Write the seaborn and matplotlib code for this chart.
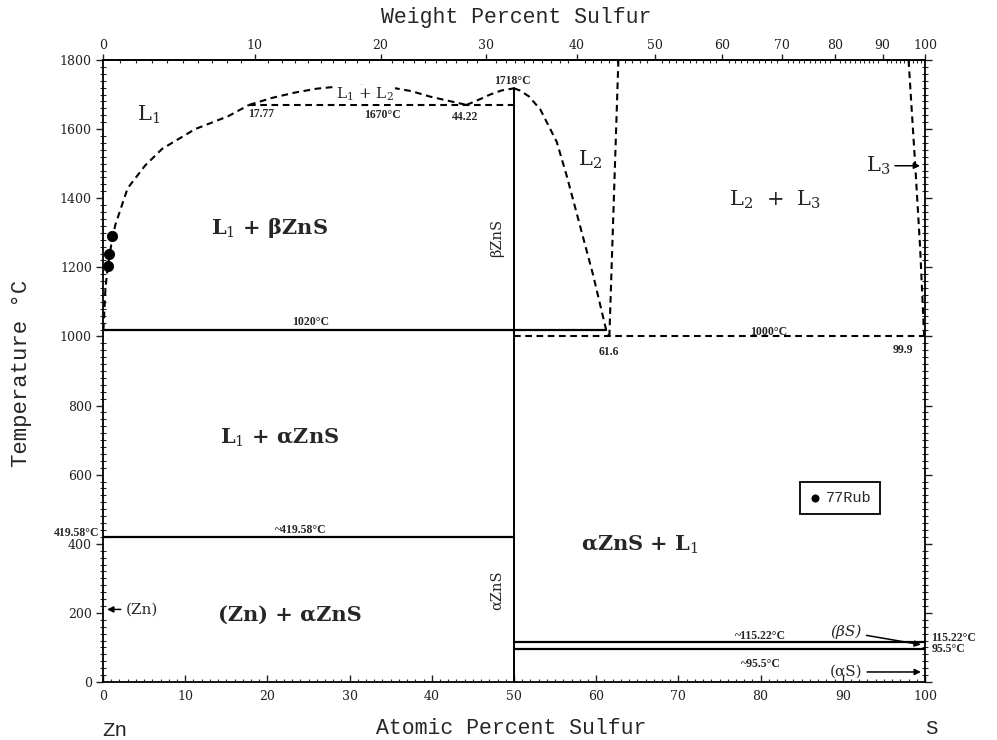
import numpy as np
import pandas as pd
import matplotlib
matplotlib.use("Agg")
import matplotlib.pyplot as plt
from matplotlib.ticker import MultipleLocator, FixedLocator
import seaborn as sns

# atomic masses used for the weight-percent scale on top
M_ZN = 65.38
M_S = 32.06

# ---- phase boundaries: atomic % S, temperature in °C ----
# liquidus of the Zn-rich liquid L1
l1_liq_x = [0.05, 0.3, 0.6, 1.0, 1.5, 3.0, 5.1, 7.2, 11.2, 15.2, 17.77]
l1_liq_T = [1020, 1140, 1205, 1265, 1323, 1429, 1494, 1543, 1600, 1637, 1670]
# L1 + L2 miscibility gap
gap_x = [17.77, 20.5, 23.4, 26.0, 28.5, 31.5, 34.9, 37.5, 39.8, 42.0, 44.22]
gap_T = [1670, 1690, 1706, 1717, 1723, 1725, 1721, 1710, 1694, 1682, 1670]
# liquidus from the monotectic up to congruent melting of ZnS
zns_liq_x = [44.22, 46.0, 47.1, 48.5, 50.0]
zns_liq_T = [1670, 1688, 1700, 1712, 1718]
# liquidus on the sulfur-rich side of ZnS (L2)
l2_liq_x = [50.0, 50.7, 51.8, 53.2, 55.2, 56.4, 58.0, 59.6, 61.2, 61.6]
l2_liq_T = [1718, 1712, 1695, 1657, 1563, 1466, 1323, 1180, 1020, 1000]
# L2 / L2 + L3 boundary
l2_gap_x = [61.6, 62.7]
l2_gap_T = [1000, 1800]
# L3 / L2 + L3 boundary
l3_gap_x = [99.9, 99.4, 98.8, 98.0]
l3_gap_T = [1000, 1260, 1500, 1800]
# ZnS line compound
zns_x = [50, 50]
zns_T = [0, 1718]

# invariant / transformation temperatures
iso_T = [1670, 1020, 1000, 419.58, 115.22, 95.5]
iso_x0 = [17.77, 0, 50, 0, 50, 50]
iso_x1 = [50, 61.2, 99.9, 50, 100, 100]
iso_dashed = [True, False, True, False, False, False]

# experimental liquidus points (77Rub)
rub_x = [0.6, 0.7, 1.1]
rub_T = [1205, 1240, 1290]

x_ticks = list(range(0, 101, 10))
y_ticks = list(range(0, 1801, 200))
wt_ticks = list(range(0, 101, 10))


def at_to_wt(a):
    a = np.asarray(a, dtype=float)
    return 100 * a * M_S / (a * M_S + (100 - a) * M_ZN)


def wt_to_at(w):
    w = np.asarray(w, dtype=float)
    return 100 * (w / M_S) / (w / M_S + (100 - w) / M_ZN)


sns.set_theme(style="ticks")
plt.rcParams["font.family"] = ["DejaVu Serif", "DejaVu Sans"]
plt.rcParams["mathtext.fontset"] = "dejavuserif"

fig = plt.figure(figsize=(9.97, 7.40), dpi=100)
ax = fig.add_axes([103 / 997, 1 - 682 / 740, 822 / 997, 622 / 740])

DASH = (0, (3.2, 2.2))


def boundary(x, T, dashed=False, lw=1.5):
    df = pd.DataFrame({"x": x, "T": T})
    sns.lineplot(data=df, x="x", y="T", ax=ax, sort=False, estimator=None,
                 color="black", linewidth=lw,
                 linestyle=DASH if dashed else "-", legend=False)


boundary(l1_liq_x, l1_liq_T, dashed=True)
boundary(gap_x, gap_T, dashed=True)
boundary(zns_liq_x, zns_liq_T, dashed=True)
boundary(l2_liq_x, l2_liq_T, dashed=True)
boundary(l2_gap_x, l2_gap_T, dashed=True)
boundary(l3_gap_x, l3_gap_T, dashed=True)
boundary(zns_x, zns_T, lw=1.4)
for T, x0, x1, d in zip(iso_T, iso_x0, iso_x1, iso_dashed):
    boundary([x0, x1], [T, T], dashed=d, lw=1.5 if d else 1.6)

sns.scatterplot(x=rub_x, y=rub_T, ax=ax, color="black", s=55,
                edgecolor="black", label="77Rub", zorder=5)

ax.set_xlim(0, 100)
ax.set_ylim(0, 1800)
ax.set_xlabel("")
ax.set_ylabel("")

# ---- ticks ----
ax.xaxis.set_major_locator(FixedLocator(x_ticks))
ax.xaxis.set_minor_locator(MultipleLocator(1))
ax.yaxis.set_major_locator(FixedLocator(y_ticks))
ax.yaxis.set_minor_locator(MultipleLocator(20))
ax.tick_params(axis="x", which="major", direction="in", length=5, width=1,
               labelsize=9, pad=6, colors="#222222")
ax.tick_params(axis="x", which="minor", direction="in", length=2.5, width=0.8)
ax.tick_params(axis="y", which="major", direction="out", length=5, width=1,
               labelsize=9, pad=3, colors="#222222", right=True)
ax.tick_params(axis="y", which="minor", direction="inout", length=4, width=0.8,
               right=True)
for sp in ax.spines.values():
    sp.set_linewidth(1.3)
    sp.set_color("black")

sec = ax.secondary_xaxis("top", functions=(at_to_wt, wt_to_at))
sec.xaxis.set_major_locator(FixedLocator(wt_ticks))
sec.xaxis.set_minor_locator(FixedLocator(list(range(0, 101, 1))))
sec.tick_params(axis="x", which="major", direction="out", length=4, width=1,
                labelsize=9, pad=2, colors="#222222")
sec.tick_params(axis="x", which="minor", direction="in", length=2, width=0.8)
sec.spines["top"].set_linewidth(1.3)

# ---- axis titles ----
mono = "Liberation Mono"
fig.text(516 / 997, 1 - 18 / 740, "Weight Percent Sulfur", family=mono,
         fontsize=15.5, ha="center", va="center")
fig.text(511 / 997, 1 - 728 / 740, "Atomic Percent Sulfur", family=mono,
         fontsize=15.5, ha="center", va="center")
fig.text(115 / 997, 1 - 730 / 740, "Zn", family=mono, fontsize=15,
         ha="center", va="center")
fig.text(931 / 997, 1 - 728 / 740, "S", family=mono, fontsize=15,
         ha="center", va="center")
fig.text(22 / 997, 1 - 373 / 740, "Temperature °C", family=mono,
         fontsize=16, ha="center", va="center", rotation=90)

# ---- phase-field labels ----
big = dict(fontsize=15, ha="center", va="center")
ax.text(5.5, 1640, "L$_1$", **big)
ax.text(59.2, 1510, "L$_2$", **big)
ax.text(81.8, 1395, "L$_2$  +  L$_3$", **big)
ax.text(20.3, 1314, "L$_1$ + βZnS", fontweight="bold", **big)
ax.text(21.5, 706, "L$_1$ + αZnS", fontweight="bold", **big)
ax.text(65.3, 396, "αZnS + L$_1$", fontweight="bold", **big)
ax.text(22.7, 194, "(Zn) + αZnS", fontweight="bold", **big)
ax.text(31.9, 1700, "L$_1$ + L$_2$", fontsize=11, ha="center", va="center",
        bbox=dict(facecolor="white", edgecolor="none", pad=0.5))
ax.text(47.9, 1286, "βZnS", fontsize=10.5, rotation=90, ha="center",
        va="center")
ax.text(47.9, 266, "αZnS", fontsize=10.5, rotation=90, ha="center",
        va="center")

# ---- temperature / composition labels ----
small = dict(fontsize=8.5, fontweight="bold", family="Liberation Serif")
ax.text(17.6, 1662, "17.77", ha="left", va="top", **small)
ax.text(34.0, 1640, "1670°C", ha="center", va="center", **small)
ax.text(44.0, 1635, "44.22", ha="center", va="center", **small)
ax.text(49.8, 1738, "1718°C", ha="center", va="center", **small)
ax.text(25.2, 1042, "1020°C", ha="center", va="center", **small)
ax.text(61.6, 955, "61.6", ha="center", va="center", **small)
ax.text(81.0, 1014, "1000°C", ha="center", va="center", **small)
ax.text(97.3, 960, "99.9", ha="center", va="center", **small)
ax.text(24.0, 440, "~419.58°C", ha="center", va="center", **small)
ax.text(80.0, 134, "~115.22°C", ha="center", va="center", **small)
ax.text(80.0, 53, "~95.5°C", ha="center", va="center", **small)
ax.text(-0.4, 430, "419.58°C", ha="right", va="center", clip_on=False,
        **small)
ax.text(100.8, 128, "115.22°C", ha="left", va="center", clip_on=False,
        **small)
ax.text(100.8, 95, "95.5°C", ha="left", va="center", clip_on=False, **small)

# ---- pointers ----
arrow = dict(arrowstyle="-|>", color="black", lw=1.1, mutation_scale=9,
             shrinkA=1, shrinkB=0)
ax.annotate("(Zn)", xy=(0.5, 210), xytext=(4.7, 210), ha="center",
            va="center", fontsize=11, arrowprops=arrow)
ax.annotate("L$_3$", xy=(99.4, 1494), xytext=(94.3, 1494), ha="center",
            va="center", fontsize=15, arrowprops=arrow)
ax.annotate("(βS)", xy=(99.5, 108), xytext=(90.4, 145), ha="center",
            va="center", fontsize=11, style="italic", arrowprops=arrow)
ax.annotate("(αS)", xy=(99.5, 29), xytext=(90.4, 29), ha="center",
            va="center", fontsize=11, arrowprops=arrow)

# ---- legend ----
leg = ax.legend(loc="center", bbox_to_anchor=(0.8966, 0.296), frameon=True,
                fancybox=False, prop={"family": mono, "size": 11},
                handletextpad=0.3, borderpad=0.6, handlelength=0.8,
                markerscale=0.7)
leg.get_frame().set_edgecolor("black")
leg.get_frame().set_linewidth(1.3)
leg.get_frame().set_alpha(1)

fig.savefig("out.png", dpi=100, facecolor="white")
